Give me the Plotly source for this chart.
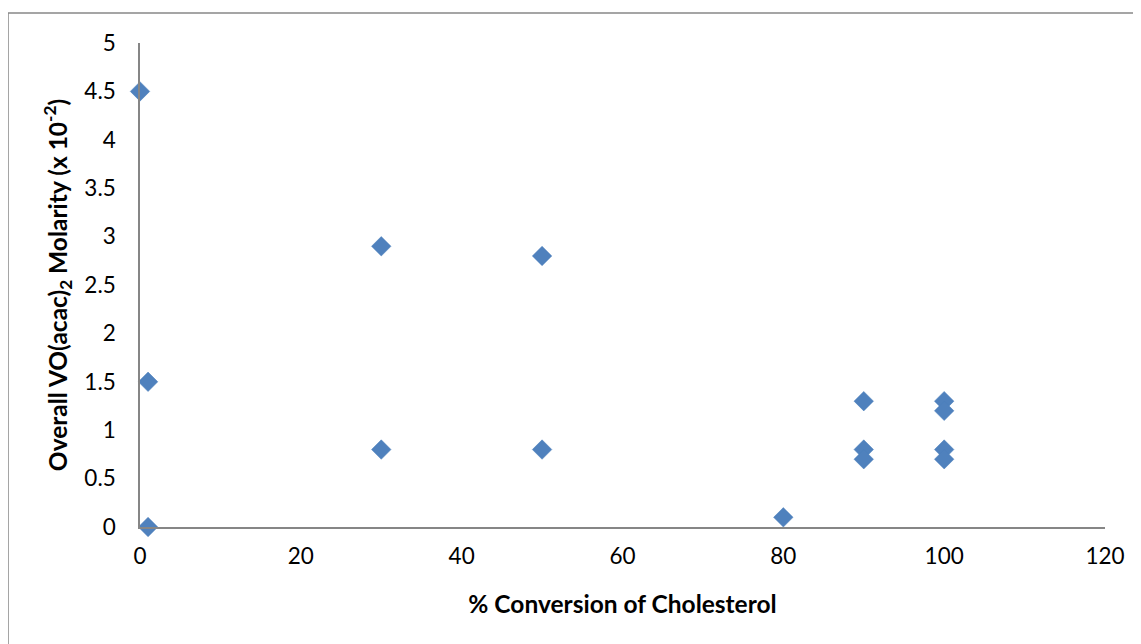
import plotly.graph_objects as go

conversion_pct = [0, 1, 1, 30, 30, 50, 50, 80, 90, 90, 90, 100, 100, 100, 100]
molarity_e2 = [4.5, 1.5, 0, 2.9, 0.8, 2.8, 0.8, 0.1, 1.3, 0.8, 0.7, 1.3, 1.2, 0.8, 0.7]

x_ticks = [0, 20, 40, 60, 80, 100, 120]
y_ticks = [0, 0.5, 1, 1.5, 2, 2.5, 3, 3.5, 4, 4.5, 5]
y_tick_text = ["0", "0.5", "1", "1.5", "2", "2.5", "3", "3.5", "4", "4.5", "5"]

# page body has an 8px margin; compensate
OFF = 8
W, H = 1141 - OFF, 644 - OFF
L, T = 140 - OFF, 43 - OFF
R = W - (1105 - OFF)
B = H - (527 - OFF)
pw, ph = W - L - R, H - T - B

fig = go.Figure()
fig.add_trace(go.Scatter(
    x=conversion_pct, y=molarity_e2, mode="markers",
    marker=dict(symbol="diamond", size=15, color="#4F81BD",
                line=dict(width=0.5, color="#4A7EBB")),
    showlegend=False, cliponaxis=False,
))

font = "Lato"
axis_color = "#868686"

fig.update_layout(
    width=W, height=H,
    margin=dict(l=L, r=R, t=T, b=B),
    paper_bgcolor="white", plot_bgcolor="white",
    font=dict(family=font, size=22, color="black"),
    xaxis=dict(
        range=[0, 120], tickmode="array", tickvals=x_ticks,
        showgrid=False, zeroline=False, showline=True,
        linecolor=axis_color, linewidth=1.5, ticks="",
        ticklabelstandoff=8,
        tickfont=dict(size=22.5),
        title=dict(text="<b>% Conversion of Cholesterol</b>", font=dict(size=24.5), standoff=28),
    ),
    yaxis=dict(
        range=[0, 5], tickmode="array", tickvals=y_ticks, ticktext=y_tick_text,
        showgrid=False, zeroline=False, showline=True,
        linecolor=axis_color, linewidth=1.5, ticks="",
        ticklabelstandoff=18,
        tickfont=dict(size=22.5),
        title=dict(text="<b>Overall VO(acac)<sub>2</sub> Molarity (x 10<sup>-2</sup>)</b>",
                   font=dict(size=24.5), standoff=10),
    ),
    shapes=[dict(
        type="rect", xref="paper", yref="paper",
        x0=(8 - OFF - L) / pw, x1=(W + 5 - L) / pw,
        y0=(H - B - (H + 5)) / ph, y1=(H - B - (13 - OFF)) / ph,
        line=dict(color="#888888", width=1.5), fillcolor="rgba(0,0,0,0)",
        layer="below",
    )],
)

fig.write_html("out.html")
